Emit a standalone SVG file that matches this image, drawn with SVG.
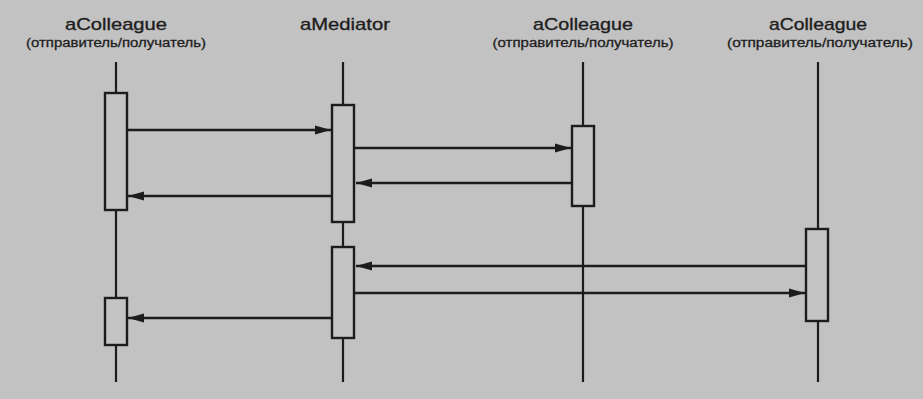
<svg xmlns="http://www.w3.org/2000/svg" width="923" height="399" viewBox="0 0 923 399">
<defs>
<style>
.t{font-family:"Liberation Sans",Arial,sans-serif;font-size:17px;fill:#1e1e1e;stroke:#1e1e1e;stroke-width:0.35;text-anchor:middle}
.s{font-family:"Liberation Sans",Arial,sans-serif;font-size:12.5px;fill:#1e1e1e;stroke:#1e1e1e;stroke-width:0.3;text-anchor:middle}
.life{stroke:#1c1c1c;stroke-width:2.2;fill:none}
.act{stroke:#1c1c1c;stroke-width:2.4;fill:#c4c4c4}
.msg{stroke:#1c1c1c;stroke-width:2.6;fill:none;marker-end:url(#ah)}
</style>
<marker id="ah" viewBox="0 0 16 10" refX="16" refY="5" markerWidth="16" markerHeight="10" markerUnits="userSpaceOnUse" orient="auto">
<path d="M0,0.5 L16,5 L0,9.5 Z" fill="#1c1c1c"/>
</marker>
</defs>
<rect width="923" height="399" fill="#c2c2c2"/>
<g id="colleague1">
<text class="t" x="116" y="30" textLength="102" lengthAdjust="spacingAndGlyphs">aColleague</text>
<text class="s" x="116" y="47" textLength="180" lengthAdjust="spacingAndGlyphs">(отправитель/получатель)</text>
<line class="life" x1="116" y1="62" x2="116" y2="382"/>
<rect class="act" x="105" y="93" width="22" height="117"/>
<rect class="act" x="105" y="298" width="22" height="47"/>
</g>
<g id="mediator">
<text class="t" x="345" y="30" textLength="90" lengthAdjust="spacingAndGlyphs">aMediator</text>
<line class="life" x1="343" y1="62" x2="343" y2="382"/>
<rect class="act" x="332" y="105" width="22" height="117"/>
<rect class="act" x="332" y="247" width="22" height="91"/>
</g>
<g id="colleague2">
<text class="t" x="583" y="30" textLength="100" lengthAdjust="spacingAndGlyphs">aColleague</text>
<text class="s" x="583" y="47" textLength="181" lengthAdjust="spacingAndGlyphs">(отправитель/получатель)</text>
<line class="life" x1="583" y1="62" x2="583" y2="382"/>
<rect class="act" x="572" y="126" width="22" height="80"/>
</g>
<g id="colleague3">
<text class="t" x="818" y="30" textLength="98" lengthAdjust="spacingAndGlyphs">aColleague</text>
<text class="s" x="820" y="47" textLength="186" lengthAdjust="spacingAndGlyphs">(отправитель/получатель)</text>
<line class="life" x1="818" y1="62" x2="818" y2="382"/>
<rect class="act" x="806" y="229" width="22" height="92"/>
</g>
<g id="connectors">
<line class="msg" x1="127" y1="130" x2="331" y2="130"/>
<line class="msg" x1="355" y1="148" x2="571" y2="148"/>
<line class="msg" x1="572" y1="183" x2="356" y2="183"/>
<line class="msg" x1="332" y1="196" x2="128" y2="196"/>
<line class="msg" x1="806" y1="266" x2="356" y2="266"/>
<line class="msg" x1="355" y1="293" x2="805" y2="293"/>
<line class="msg" x1="332" y1="318" x2="128" y2="318"/>
</g>
</svg>
